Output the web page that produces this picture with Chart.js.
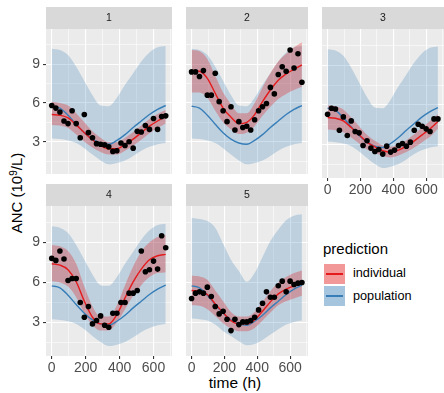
<!DOCTYPE html>
<html>
<head>
<meta charset="utf-8">
<script src="https://cdn.jsdelivr.net/npm/chart.js@4.4.0/dist/chart.umd.min.js"></script>
<style>
  body { margin: 0; width: 444px; height: 393px; overflow: hidden; background: #fff;
         font-family: "Liberation Sans", Arial, sans-serif; position: relative; }
  canvas { position: absolute; }
  .txt { position: absolute; white-space: nowrap; color: #000; }
  #ytitle { left: 16px; top: 193px; font-size: 15px; transform: translate(-50%, -50%) rotate(-90deg); }
  #ytitle sup { font-size: 10px; vertical-align: 5px; line-height: 0; }
  #xtitle { left: 235px; top: 383px; font-size: 15.5px; transform: translate(-50%, -50%); }
  #ltitle { left: 323px; top: 240px; font-size: 15px; }
  .key { position: absolute; left: 324px; width: 21px; height: 20px; }
  .key i { position: absolute; left: 2px; right: 2px; top: 9px; height: 1.5px; }
  .lab { font-size: 12.7px; left: 353px; }
</style>
</head>
<body>
<div id="ytitle" class="txt">ANC (10<sup>9</sup>/L)</div>
<div id="xtitle" class="txt">time (h)</div>
<div id="ltitle" class="txt">prediction</div>
<div class="key" style="top:264px;background:rgba(228,26,28,0.45)"><i style="background:#e41a1c"></i></div>
<div class="key" style="top:286px;background:rgba(55,126,184,0.45)"><i style="background:#377eb8"></i></div>
<div class="txt lab" style="top:266px">individual</div>
<div class="txt lab" style="top:289px">population</div>
<script>
// facet labels
const panels = ["1", "2", "3", "4", "5"];

// axis ticks
const xTicks = [0, 200, 400, 600];
const xMinor = [100, 300, 500, 700];
const yTicks = [3, 6, 9];
const yMinor = [1.5, 4.5, 7.5, 10.5];

// observation times (h) and observed ANC per subject
const obsTimes = [0, 24, 48, 72, 96, 120, 144, 168, 192, 216, 240, 264, 288, 312, 336,
                  360, 384, 408, 432, 456, 480, 504, 528, 552, 576, 600, 624, 648, 672];
const obs1 = [5.8, 5.6, 5.3, 4.6, 4.4, 5.4, 4.4, 3.3, 5.1, 3.7, 3.3, 2.85, 2.8, 2.75, 2.6,
              2.25, 2.3, 2.9, 2.7, 3.0, 2.5, 3.8, 3.75, 4.25, 3.95, 4.8, 3.95, 4.95, 5.0];
const obs2 = [8.4, 8.4, 8.05, 8.5, 6.6, 6.6, 8.3, 6.1, 5.4, 4.55, 5.7, 3.9, 4.55, 4.1, 4.2,
              3.9, 4.7, 5.4, 5.7, 5.95, 7.2, 6.7, 8.2, 8.8, 8.45, 10.1, 8.7, 9.8, 7.6];
const obs3 = [5.3, 5.75, 5.7, 4.1, 5.1, 3.7, 4.8, 4.0, 3.9, 2.95, 3.3, 2.75, 2.5, 2.65, 2.3,
              2.9, 2.45, 2.6, 2.95, 3.1, 2.9, 3.2, 4.1, 4.55, 4.4, 4.2, 4.0, 4.95, 4.95];
const obs4 = [7.8, 7.65, 8.35, 7.75, 6.15, 6.3, 6.3, 4.5, 3.4, 4.2, 2.9, 3.15, 3.5, 2.8, 2.65,
              3.7, 3.7, 4.5, 4.5, 5.2, 5.2, 5.4, 8.35, 6.8, 6.95, 7.6, 7.0, 9.5, 8.6];
const obs5 = [4.8, 5.2, 5.3, 5.2, 5.65, 4.95, 4.2, 3.65, 3.85, 3.25, 2.4, 3.25, 2.85, 3.05, 3.05,
              3.15, 3.4, 3.95, 4.45, 5.3, 4.9, 4.9, 5.75, 6.1, 5.3, 6.1, 5.85, 5.95, 6.0];

// prediction times (h)
const predTimes = [0, 48, 96, 144, 192, 240, 288, 336, 384, 432, 480, 528, 576, 624, 672];

// population prediction: median and interval
const popMid = [5.75, 5.6, 5.05, 4.35, 3.7, 3.2, 2.9, 2.8, 3.1, 3.55, 4.1, 4.6, 5.1, 5.5, 5.8];
const popHi = [10.2, 10.1, 9.7, 8.8, 7.7, 6.6, 5.8, 5.75, 6.4, 7.4, 8.3, 9.2, 9.9, 10.3, 10.4];
const popLo = [3.25, 3.2, 3.1, 2.9, 2.5, 2.0, 1.55, 1.25, 1.35, 1.55, 1.9, 2.3, 2.6, 2.8, 2.9];
const popHi5 = [10.85, 10.75, 10.6, 10.1, 8.9, 7.7, 6.85, 6.05, 6.7, 7.9, 9.1, 9.95, 10.65, 11.0, 11.1];
const popLo5 = [3.3, 3.25, 3.15, 2.85, 2.35, 2.0, 1.6, 1.3, 1.4, 1.7, 2.1, 2.5, 2.85, 3.05, 3.15];

// individual prediction: median and interval
const ind1 = [5.1, 5.05, 4.85, 4.3, 3.7, 3.15, 2.7, 2.45, 2.45, 2.8, 3.2, 3.7, 4.2, 4.6, 4.95];
const indHi1 = [6.1, 6.0, 5.8, 5.2, 4.5, 3.8, 3.3, 2.95, 2.95, 3.3, 3.75, 4.25, 4.75, 5.15, 5.45];
const indLo1 = [4.3, 4.25, 4.05, 3.55, 3.0, 2.55, 2.2, 2.0, 2.0, 2.3, 2.7, 3.15, 3.65, 4.05, 4.4];
const ind2 = [8.5, 8.45, 7.9, 6.75, 5.6, 4.9, 4.4, 4.5, 5.1, 6.1, 7.0, 7.75, 8.25, 8.6, 8.95];
const indHi2 = [10.1, 10.0, 9.4, 8.1, 6.8, 5.9, 5.2, 5.2, 6.0, 7.2, 8.3, 9.2, 9.8, 10.3, 10.7];
const indLo2 = [6.8, 6.8, 6.4, 5.4, 4.5, 3.95, 3.6, 3.7, 4.2, 5.0, 5.7, 6.3, 6.7, 7.0, 7.25];
const ind3 = [5.05, 5.0, 4.8, 4.3, 3.75, 3.2, 2.85, 2.55, 2.45, 2.6, 2.9, 3.3, 3.75, 4.2, 4.75];
const indHi3 = [5.95, 5.9, 5.65, 5.05, 4.4, 3.75, 3.3, 2.95, 2.85, 3.0, 3.35, 3.8, 4.3, 4.8, 5.3];
const indLo3 = [4.15, 4.1, 3.95, 3.55, 3.1, 2.65, 2.4, 2.15, 2.05, 2.2, 2.45, 2.8, 3.2, 3.6, 4.2];
const ind4 = [7.4, 7.3, 6.95, 6.05, 4.6, 3.4, 2.9, 2.9, 3.6, 4.85, 6.05, 7.0, 7.7, 8.0, 8.1];
const indHi4 = [8.8, 8.7, 8.35, 7.4, 5.7, 4.2, 3.45, 3.45, 4.3, 5.8, 7.2, 8.3, 9.0, 9.4, 9.55];
const indLo4 = [6.1, 6.0, 5.7, 4.9, 3.7, 2.8, 2.4, 2.4, 3.0, 4.0, 5.0, 5.8, 6.4, 6.7, 6.75];
const ind5 = [5.4, 5.35, 5.1, 4.4, 3.75, 3.15, 2.9, 2.9, 3.2, 3.85, 4.55, 5.15, 5.5, 5.75, 5.95];
const indHi5 = [6.5, 6.45, 6.2, 5.4, 4.6, 3.8, 3.45, 3.45, 3.8, 4.55, 5.35, 6.0, 6.4, 6.7, 6.9];
const indLo5 = [4.3, 4.25, 4.0, 3.5, 2.95, 2.55, 2.35, 2.35, 2.6, 3.15, 3.75, 4.3, 4.6, 4.8, 5.0];

const subjects = [
  { obs: obs1, ind: ind1, indHi: indHi1, indLo: indLo1, pop: popMid, popHi: popHi, popLo: popLo },
  { obs: obs2, ind: ind2, indHi: indHi2, indLo: indLo2, pop: popMid, popHi: popHi, popLo: popLo },
  { obs: obs3, ind: ind3, indHi: indHi3, indLo: indLo3, pop: popMid, popHi: popHi, popLo: popLo },
  { obs: obs4, ind: ind4, indHi: indHi4, indLo: indLo4, pop: popMid, popHi: popHi, popLo: popLo },
  { obs: obs5, ind: ind5, indHi: indHi5, indLo: indLo5, pop: popMid, popHi: popHi5, popLo: popLo5 },
];

// where each facet sits on the page
const boxes = [
  { left: 0,   top: 7,   w: 176, h: 171, showY: true,  showX: false },
  { left: 182, top: 7,   w: 130, h: 171, showY: false, showX: false },
  { left: 318, top: 7,   w: 130, h: 201, showY: false, showX: true },
  { left: 0,   top: 184, w: 176, h: 202, showY: true,  showX: true },
  { left: 182, top: 184, w: 130, h: 202, showY: false, showX: true },
];

const RED = "#e41a1c";
const BLUE = "#377eb8";
const STRIP = 22;

function pts(xs, ys) {
  return xs.map((x, i) => ({ x: x, y: ys[i] }));
}

const stripPlugin = {
  id: "strip",
  beforeDraw(chart, args, opts) {
    const { ctx, chartArea: a } = chart;
    ctx.save();
    ctx.fillStyle = "#ebebeb";
    ctx.fillRect(a.left, a.top, a.right - a.left, a.bottom - a.top);
    ctx.fillStyle = "#d9d9d9";
    ctx.fillRect(a.left, a.top - STRIP, a.right - a.left, STRIP);
    ctx.fillStyle = "#1a1a1a";
    ctx.font = '10.5px "Liberation Sans", Arial, sans-serif';
    ctx.textAlign = "center";
    ctx.textBaseline = "middle";
    ctx.fillText(opts.label, (a.left + a.right) / 2, a.top - STRIP / 2);
    ctx.restore();
  }
};

function isMajor(c, list) {
  return c.tick && list.includes(c.tick.value);
}

function makePanel(i) {
  const b = boxes[i];
  const s = subjects[i];
  const cv = document.createElement("canvas");
  cv.width = b.w;
  cv.height = b.h;
  cv.style.left = b.left + "px";
  cv.style.top = b.top + "px";
  cv.style.width = b.w + "px";
  cv.style.height = b.h + "px";
  document.body.appendChild(cv);

  const thin = { pointRadius: 0, borderWidth: 0, cubicInterpolationMode: "monotone" };

  new Chart(cv.getContext("2d"), {
    type: "line",
    plugins: [stripPlugin],
    data: {
      datasets: [
        Object.assign({ data: pts(predTimes, s.popLo), fill: false, order: 5 }, thin),
        Object.assign({ data: pts(predTimes, s.popHi), fill: "-1", backgroundColor: "rgba(55,126,184,0.25)", order: 5 }, thin),
        Object.assign({ data: pts(predTimes, s.indLo), fill: false, order: 4 }, thin),
        Object.assign({ data: pts(predTimes, s.indHi), fill: "-1", backgroundColor: "rgba(228,26,28,0.3)", order: 4 }, thin),
        { data: pts(predTimes, s.pop), borderColor: BLUE, borderWidth: 1.4, pointRadius: 0,
          cubicInterpolationMode: "monotone", fill: false, order: 2 },
        { data: pts(predTimes, s.ind), borderColor: RED, borderWidth: 1.4, pointRadius: 0,
          cubicInterpolationMode: "monotone", fill: false, order: 1 },
        { data: pts(obsTimes, s.obs), showLine: false, pointRadius: 2.8, pointBorderWidth: 0,
          pointBackgroundColor: "#000", order: 0 },
      ]
    },
    options: {
      responsive: false,
      animation: false,
      devicePixelRatio: 1,
      layout: { padding: { top: STRIP, left: 0, right: 0, bottom: 0 } },
      plugins: {
        legend: { display: false },
        tooltip: { enabled: false },
        strip: { label: panels[i] }
      },
      scales: {
        x: {
          type: "linear", min: -34, max: 709,
          border: { display: false },
          grid: {
            color: "#ffffff",
            lineWidth: c => isMajor(c, xTicks) ? 1.1 : 0.55,
            drawTicks: b.showX, tickLength: 3, tickWidth: 1.1,
            tickColor: c => isMajor(c, xTicks) ? "#333333" : "rgba(0,0,0,0)"
          },
          ticks: {
            display: b.showX, padding: 1, color: "#4d4d4d", autoSkip: false, maxRotation: 0,
            font: { size: 14, family: '"Liberation Sans", Arial, sans-serif' },
            callback: v => xTicks.includes(v) ? String(v) : ""
          },
          afterBuildTicks: sc => { sc.ticks = xTicks.concat(xMinor).sort((a, c) => a - c).map(v => ({ value: v })); },
          afterFit: sc => { sc.height = b.showX ? 30 : 0; sc.paddingLeft = 0; sc.paddingRight = 0; }
        },
        y: {
          type: "linear", min: 0.5, max: 11.72,
          border: { display: false },
          grid: {
            color: "#ffffff",
            lineWidth: c => isMajor(c, yTicks) ? 1.1 : 0.55,
            drawTicks: b.showY, tickLength: 3, tickWidth: 1.1,
            tickColor: c => isMajor(c, yTicks) ? "#333333" : "rgba(0,0,0,0)"
          },
          ticks: {
            display: b.showY, padding: 3, color: "#4d4d4d", autoSkip: false,
            font: { size: 14, family: '"Liberation Sans", Arial, sans-serif' },
            callback: v => yTicks.includes(v) ? String(v) : ""
          },
          afterBuildTicks: sc => { sc.ticks = yTicks.concat(yMinor).sort((a, c) => a - c).map(v => ({ value: v })); },
          afterFit: sc => { sc.width = b.showY ? 46 : 0; sc.paddingTop = 0; sc.paddingBottom = 0; }
        }
      }
    }
  });
}

panels.forEach((p, i) => makePanel(i));
</script>
</body>
</html>
